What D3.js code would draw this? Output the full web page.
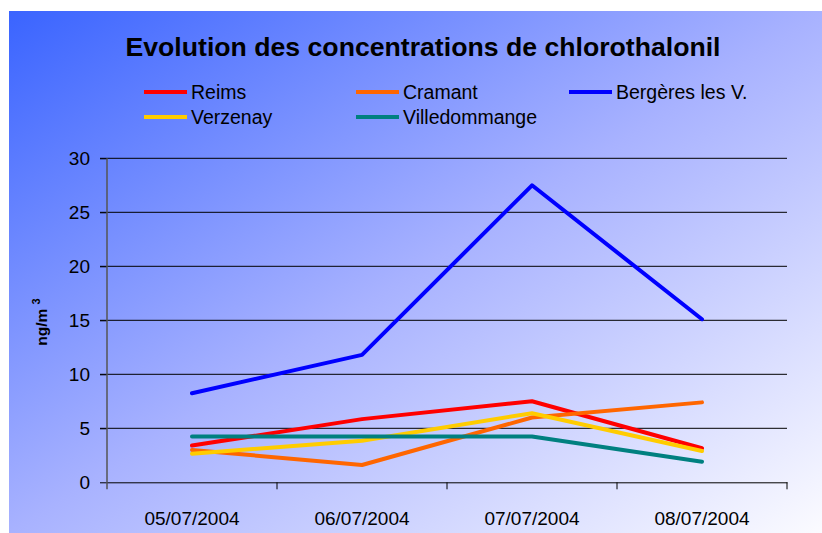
<!DOCTYPE html>
<html>
<head>
<meta charset="utf-8">
<script src="https://cdn.jsdelivr.net/npm/d3@7"></script>
<style>
  html, body { margin: 0; padding: 0; background: #ffffff; }
  svg { display: block; font-family: "Liberation Sans", Arial, sans-serif; }
</style>
</head>
<body>
<svg id="chart" width="822" height="533"></svg>
<script>
const dates = ["05/07/2004", "06/07/2004", "07/07/2004", "08/07/2004"];
const seriesNames = ["Reims", "Cramant", "Bergères les V.", "Verzenay", "Villedommange"];
const seriesColors = ["#ff0000", "#ff6600", "#0000ff", "#ffcc00", "#008080"];
const reims = [3.4, 5.85, 7.5, 3.15];
const cramant = [3.0, 1.6, 6.0, 7.4];
const bergeres = [8.25, 11.8, 27.5, 15.1];
const verzenay = [2.65, 3.85, 6.4, 2.9];
const villedommange = [4.25, 4.25, 4.25, 1.9];
const yTicks = [0, 5, 10, 15, 20, 25, 30];

const seriesValues = [reims, cramant, bergeres, verzenay, villedommange];

const svg = d3.select("#chart");

// background gradient
const defs = svg.append("defs");
const grad = defs.append("linearGradient").attr("id", "bg")
  .attr("x1", "0").attr("y1", "0").attr("x2", "1").attr("y2", "1");
grad.append("stop").attr("offset", "0").attr("stop-color", "#3a64ff");
grad.append("stop").attr("offset", "0.5").attr("stop-color", "#a8b2ff");
grad.append("stop").attr("offset", "1").attr("stop-color", "#fbfbff");
svg.append("rect").attr("x", 9).attr("y", 11).attr("width", 813).attr("height", 522)
  .attr("fill", "url(#bg)");

// title
svg.append("text").attr("x", 423).attr("y", 56).attr("text-anchor", "middle")
  .attr("font-size", 25).attr("font-weight", "bold").attr("fill", "#000")
  .attr("textLength", 595).attr("lengthAdjust", "spacingAndGlyphs")
  .text("Evolution des concentrations de chlorothalonil");

// legend
const legendPos = [[144, 92], [356, 92], [569, 92], [144, 117], [356, 117]];
seriesNames.forEach((name, i) => {
  const g = svg.append("g").attr("transform", `translate(${legendPos[i][0]},${legendPos[i][1]})`);
  g.append("line").attr("x1", 0).attr("x2", 43).attr("y1", 0).attr("y2", 0)
    .attr("stroke", seriesColors[i]).attr("stroke-width", 4);
  g.append("text").attr("x", 47).attr("y", 7).attr("font-size", 19.5).attr("fill", "#000").text(name);
});

// scales
const pLeft = 107, pRight = 787, pTop = 158.3, pBottom = 482.3;
const x = d3.scaleBand().domain(dates).range([pLeft, pRight]);
const y = d3.scaleLinear().domain([0, 30]).range([pBottom, pTop]);

// gridlines
svg.append("g").selectAll("line").data(yTicks.filter(d => d > 0)).join("line")
  .attr("x1", pLeft - 7).attr("x2", pRight)
  .attr("y1", d => y(d)).attr("y2", d => y(d))
  .attr("stroke", "#000").attr("stroke-width", 1);

// y axis
const yAxis = svg.append("g").attr("transform", `translate(${pLeft},0)`)
  .call(d3.axisLeft(y).tickValues(yTicks).tickSize(7).tickPadding(10));
yAxis.select(".domain").remove();
yAxis.selectAll(".tick line").attr("stroke", "#000");
yAxis.selectAll(".tick text").attr("font-size", 19).attr("fill", "#000")
  .attr("font-family", "'Liberation Sans', Arial, sans-serif");
svg.append("line").attr("x1", pLeft).attr("x2", pLeft).attr("y1", pTop).attr("y2", pBottom + 7)
  .attr("stroke", "#555").attr("stroke-width", 1.5);

// x axis
const xAxis = svg.append("g").attr("transform", `translate(0,${pBottom})`)
  .call(d3.axisBottom(x).tickSize(0).tickPadding(29));
xAxis.select(".domain").attr("stroke", "#000");
xAxis.selectAll(".tick text").attr("font-size", 19).attr("fill", "#000")
  .attr("font-family", "'Liberation Sans', Arial, sans-serif");
// category boundary ticks
const bounds = dates.map(d => x(d)).concat([x(dates[dates.length - 1]) + x.bandwidth()]);
svg.append("g").selectAll("line").data(bounds.slice(1)).join("line")
  .attr("x1", d => d).attr("x2", d => d).attr("y1", pBottom).attr("y2", pBottom + 7)
  .attr("stroke", "#000").attr("stroke-width", 1);

// y-axis title
const yt = svg.append("text").attr("transform", `translate(47,322) rotate(-90)`)
  .attr("text-anchor", "middle").attr("font-size", 15.5).attr("font-weight", "bold").attr("fill", "#000");
yt.append("tspan").text("ng/m ");
yt.append("tspan").attr("font-size", 11).attr("dy", -7).text("3");

// lines
const line = d3.line().x((d, i) => x(dates[i]) + x.bandwidth() / 2).y(d => y(d));
seriesValues.forEach((vals, i) => {
  svg.append("path").datum(vals).attr("d", line)
    .attr("fill", "none").attr("stroke", seriesColors[i]).attr("stroke-width", 4)
    .attr("stroke-linejoin", "round").attr("stroke-linecap", "round");
});
</script>
</body>
</html>
